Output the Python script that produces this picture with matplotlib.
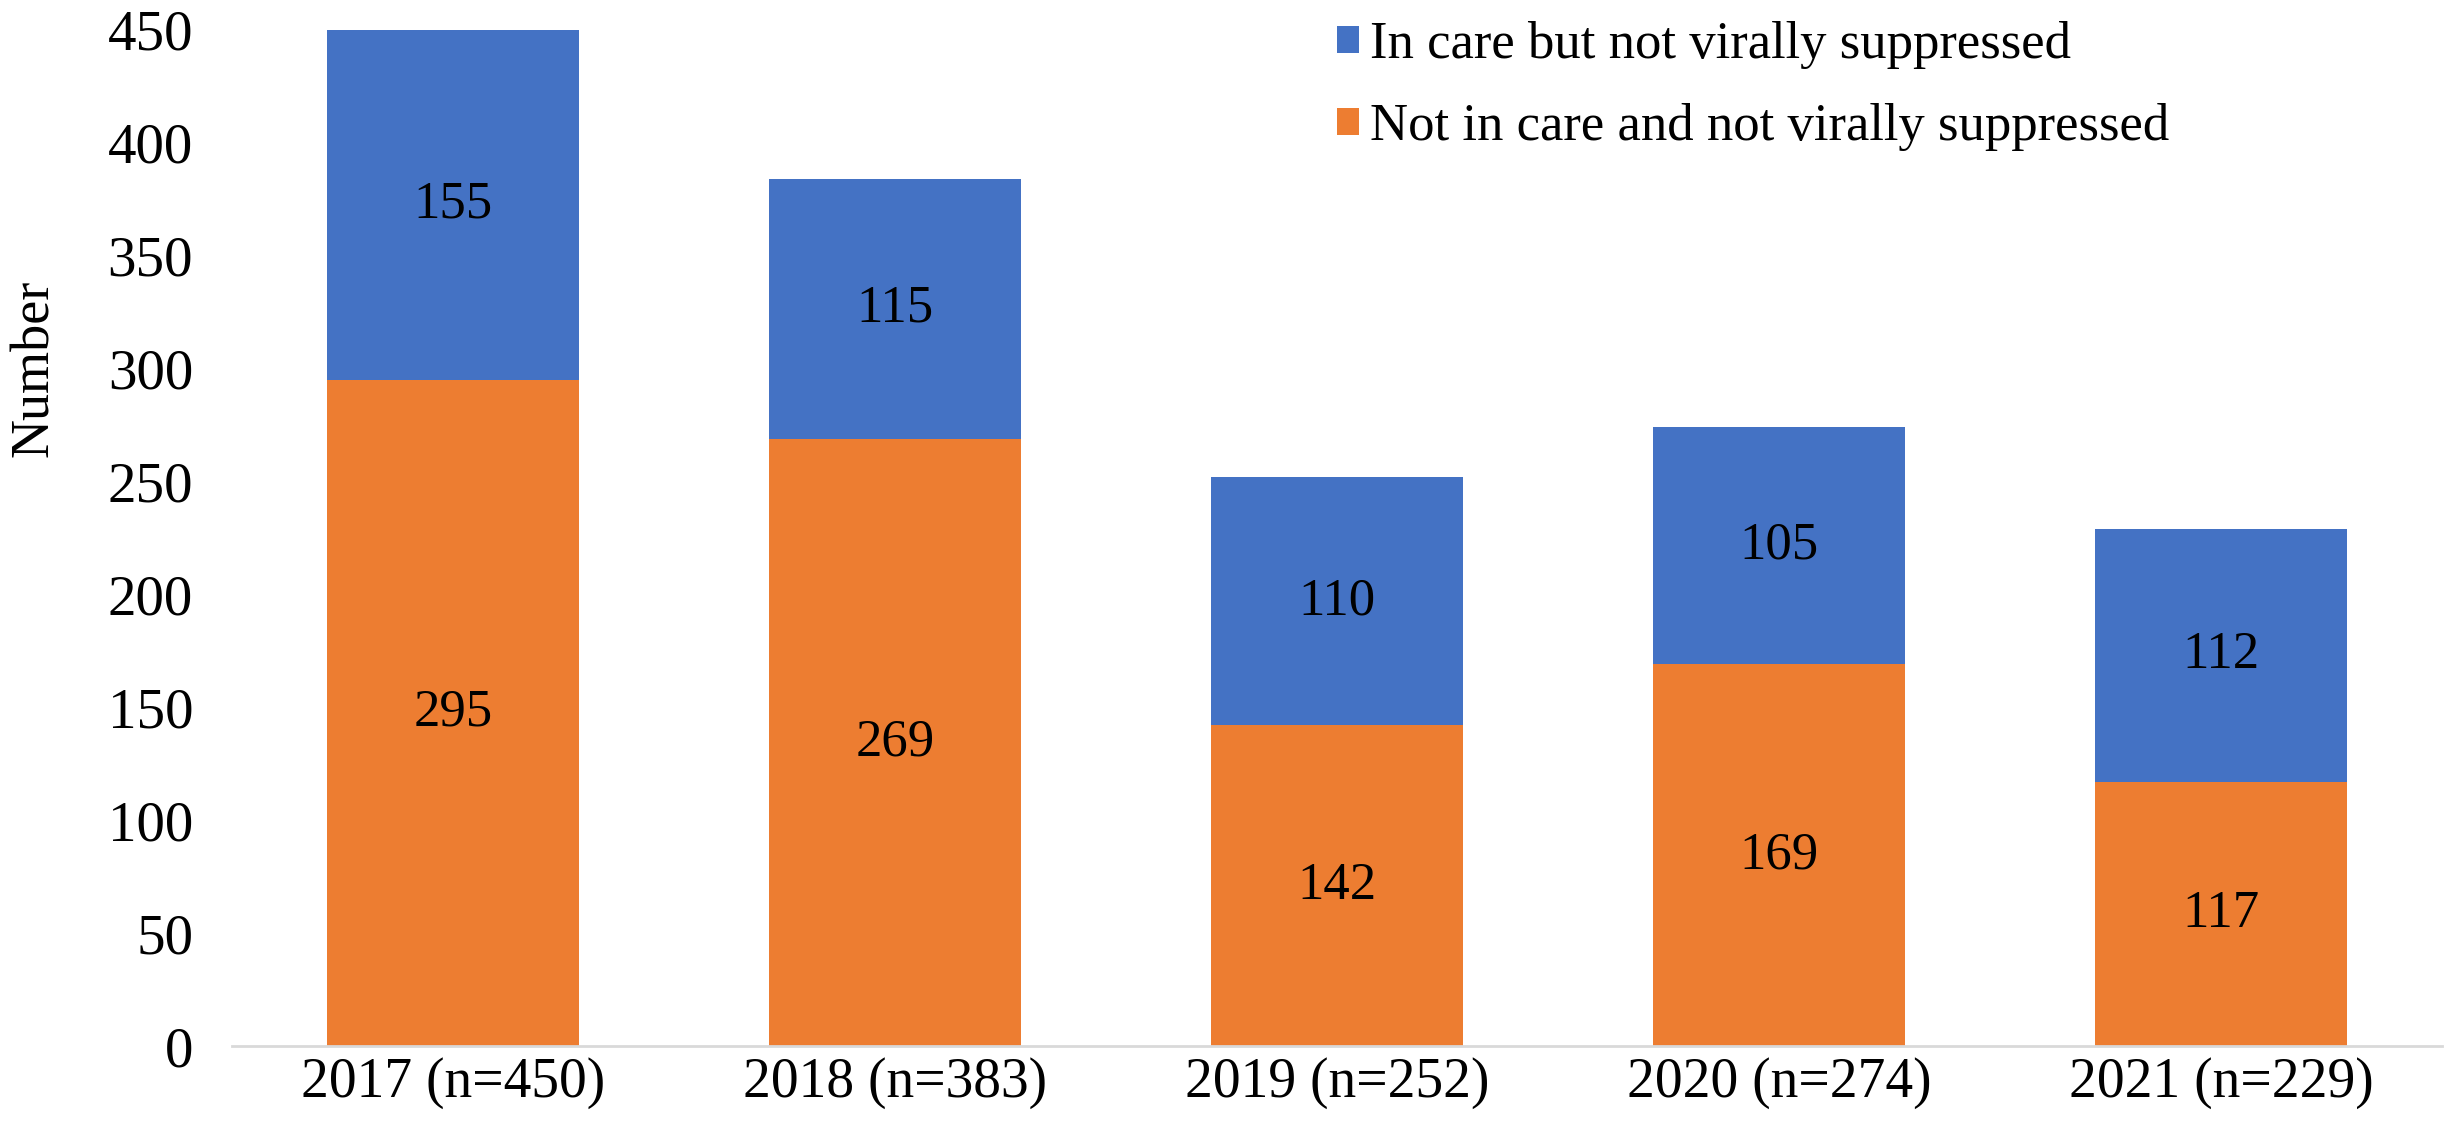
import numpy as np
import matplotlib.pyplot as plt

years = ['2017 (n=450)', '2018 (n=383)', '2019 (n=252)', '2020 (n=274)', '2021 (n=229)']
not_in_care = [295, 269, 142, 169, 117]
in_care = [155, 115, 110, 105, 112]

blue = '#4472C4'
orange = '#ED7D31'

plt.rcParams['font.family'] = ['Liberation Serif', 'DejaVu Serif']

fig = plt.figure(figsize=(24.55, 11.35), dpi=100)
ax = fig.add_axes([0.0945, 0.0784, 0.9002, 0.8952])

x = np.arange(len(years))
w = 0.572
b1 = ax.bar(x, not_in_care, w, color=orange, label='Not in care and not virally suppressed')
b2 = ax.bar(x, in_care, w, bottom=not_in_care, color=blue, label='In care but not virally suppressed')

ax.bar_label(b1, label_type='center', fontsize=38)
ax.bar_label(b2, label_type='center', fontsize=38)

ax.set_xlim(-0.5, 4.5)
ax.set_ylim(0, 450)
ax.set_yticks(range(0, 451, 50))
ax.set_xticks(x)
ax.set_xticklabels(years)
ax.tick_params(axis='both', length=0)
ax.tick_params(axis='y', pad=28, labelsize=41)
ax.tick_params(axis='x', pad=8, labelsize=40)

for s in ['top', 'right', 'left']:
    ax.spines[s].set_visible(False)
ax.spines['bottom'].set_color('#D9D9D9')
ax.spines['bottom'].set_linewidth(2)

ax.set_ylabel('Number', fontsize=39)
ax.yaxis.set_label_coords(-0.078, 0.667)

handles, labels = ax.get_legend_handles_labels()
ax.legend(handles[::-1], labels[::-1], loc='upper left', bbox_to_anchor=(0.536, 1.0),
          bbox_transform=fig.transFigure, frameon=False, fontsize=38,
          handlelength=0.42, handleheight=0.42, handletextpad=0.2, labelspacing=0.65,
          borderaxespad=0)

fig.savefig('out.png', dpi=100)
